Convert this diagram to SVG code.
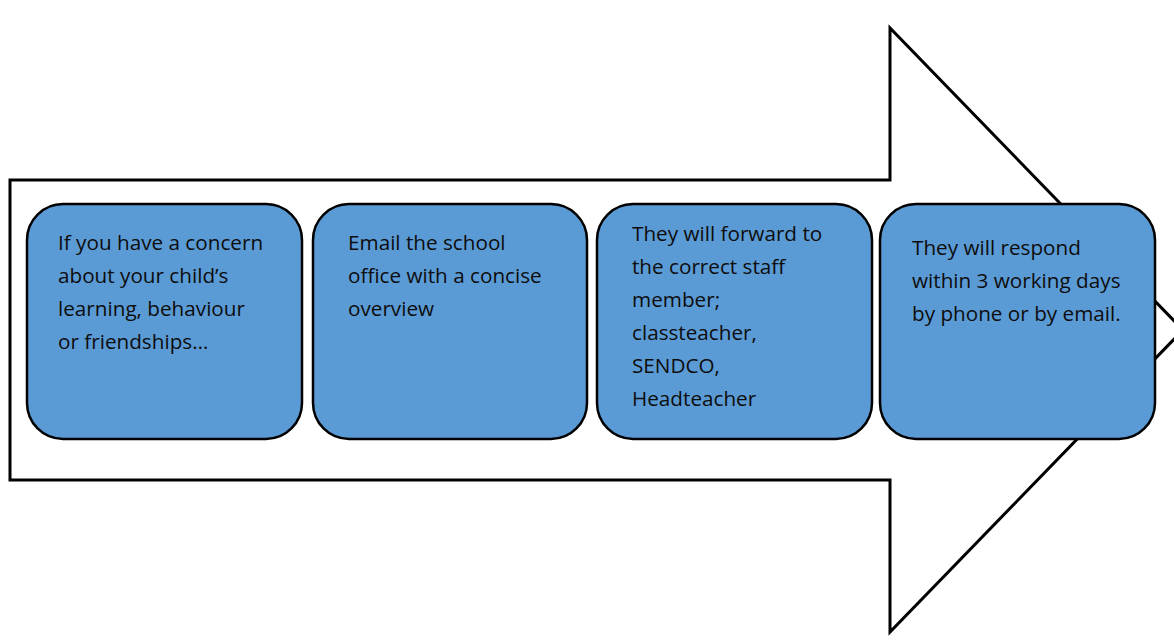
<svg xmlns="http://www.w3.org/2000/svg" width="1174" height="642" viewBox="0 0 1174 642">
<style>
.box{fill:#5B9BD5;stroke:#000;stroke-width:2.5}
.t{font-family:"Open Sans","Liberation Sans",sans-serif;font-size:20.7px;fill:#0d0d0d}
</style>
<rect width="1174" height="642" fill="#fff"/>
<g id="arrow">
<path d="M10,180 H890 V28 L1183,330 L890,632 V480 H10 Z" fill="#fff" stroke="#000" stroke-width="3" stroke-linejoin="miter"/>
</g>
<g id="node1">
<rect class="box" x="27" y="204" width="275" height="235" rx="36"/>
<text class="t"><tspan x="58" y="250">If you have a concern</tspan><tspan x="58" y="283">about your child’s</tspan><tspan x="58" y="316">learning, behaviour</tspan><tspan x="58" y="349">or friendships…</tspan></text>
</g>
<g id="node2">
<rect class="box" x="313" y="204" width="274" height="235" rx="36"/>
<text class="t"><tspan x="348" y="250">Email the school</tspan><tspan x="348" y="283">office with a concise</tspan><tspan x="348" y="316">overview</tspan></text>
</g>
<g id="node3">
<rect class="box" x="597" y="204" width="275" height="235" rx="36"/>
<text class="t"><tspan x="632" y="241">They will forward to</tspan><tspan x="632" y="274">the correct staff</tspan><tspan x="632" y="307">member;</tspan><tspan x="632" y="340">classteacher,</tspan><tspan x="632" y="373">SENDCO,</tspan><tspan x="632" y="406">Headteacher</tspan></text>
</g>
<g id="node4">
<rect class="box" x="880" y="204" width="275" height="235" rx="36"/>
<text class="t"><tspan x="912" y="255">They will respond</tspan><tspan x="912" y="288">within 3 working days</tspan><tspan x="912" y="321">by phone or by email.</tspan></text>
</g>
<g id="connectors"/>
</svg>
